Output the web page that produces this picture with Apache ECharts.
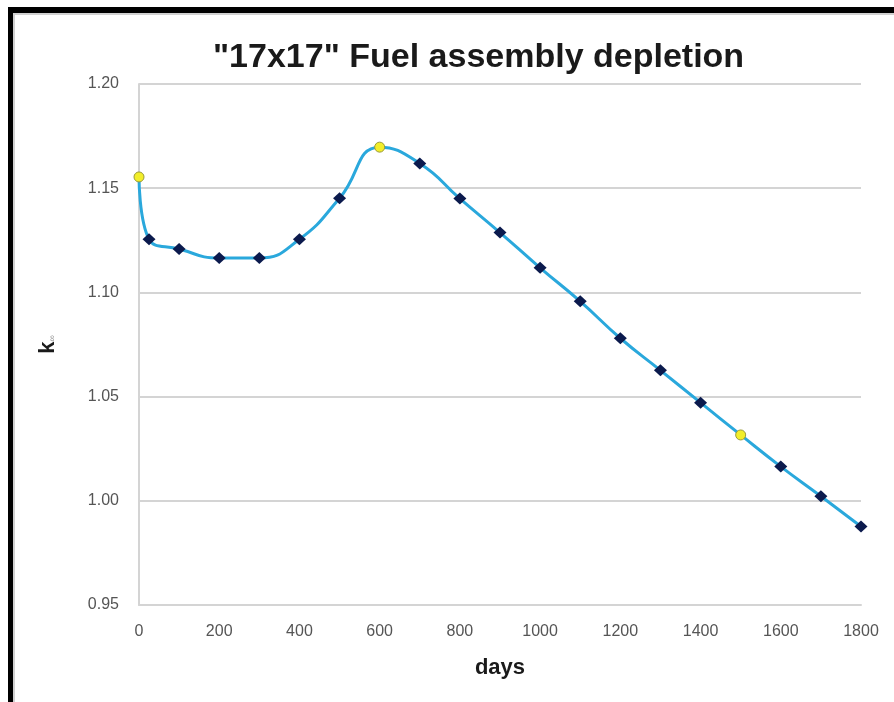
<!DOCTYPE html>
<html>
<head>
<meta charset="utf-8">
<script src="https://cdn.jsdelivr.net/npm/echarts@6/dist/echarts.min.js"></script>
<style>
html,body{margin:0;padding:0;background:#fff;}
#chart{width:894px;height:702px;}
</style>
</head>
<body>
<div id="chart"></div>
<script>
var titleText = '"17x17" Fuel assembly depletion';
var xAxisTitle = 'days';
var days = [0, 25, 100, 200, 300, 400, 500, 600, 700, 800, 900, 1000, 1100, 1200, 1300, 1400, 1500, 1600, 1700, 1800];
var kinf = [1.1554, 1.1255, 1.1208, 1.1165, 1.1165, 1.1255, 1.1452, 1.1697, 1.1619, 1.1450, 1.1287, 1.1118, 1.0957, 1.0780, 1.0626, 1.0471, 1.0316, 1.0164, 1.0022, 0.9877];
var highlightedDays = [0, 600, 1500];
var xTicks = [0, 200, 400, 600, 800, 1000, 1200, 1400, 1600, 1800];
var yTicks = [0.95, 1.00, 1.05, 1.10, 1.15, 1.20];

var seriesData = days.map(function (d, i) {
  var item = { value: [d, kinf[i]] };
  if (highlightedDays.indexOf(d) >= 0) {
    item.symbol = 'circle';
    item.symbolSize = 10;
    item.itemStyle = { color: '#f2ee2a', borderColor: '#9a9a3a', borderWidth: 1 };
  }
  return item;
});

var chart = echarts.init(document.getElementById('chart'), null, { renderer: 'canvas' });
chart.setOption({
  backgroundColor: '#ffffff',
  animation: false,
  title: {
    text: titleText,
    left: 208,
    top: 36,
    textStyle: { fontFamily: 'Liberation Sans, Arial, sans-serif', fontWeight: 'bold', fontSize: 34, color: '#1a1a1a' }
  },
  graphic: [
    { type: 'rect', shape: { x: 8, y: 7, width: 886, height: 6 }, style: { fill: '#000' }, silent: true },
    { type: 'rect', shape: { x: 8, y: 7, width: 5, height: 695 }, style: { fill: '#000' }, silent: true },
    { type: 'rect', shape: { x: 13, y: 13, width: 881, height: 2 }, style: { fill: '#d0d0d0' }, silent: true },
    { type: 'rect', shape: { x: 13, y: 13, width: 2, height: 689 }, style: { fill: '#d0d0d0' }, silent: true }
  ],
  grid: { left: 139, right: 33, top: 84, bottom: 97, containLabel: false },
  xAxis: {
    type: 'value',
    min: xTicks[0],
    max: xTicks[xTicks.length - 1],
    interval: 200,
    name: xAxisTitle,
    nameLocation: 'middle',
    nameGap: 52,
    nameTextStyle: { fontFamily: 'Liberation Sans, Arial, sans-serif', fontWeight: 'bold', fontSize: 22, color: '#1a1a1a' },
    axisLine: { show: true, lineStyle: { color: '#d4d4d4', width: 2 } },
    axisTick: { show: false },
    splitLine: { show: false },
    axisLabel: {
      margin: 19,
      fontFamily: 'Liberation Sans, Arial, sans-serif',
      fontSize: 16,
      color: '#555',
      formatter: function (v) { return String(v); }
    }
  },
  yAxis: {
    type: 'value',
    min: yTicks[0],
    max: yTicks[yTicks.length - 1],
    interval: 0.05,
    name: '{k|k}{s|∞}',
    nameLocation: 'middle',
    nameRotate: 90,
    nameGap: 80,
    nameTextStyle: {
      rich: {
        k: { fontFamily: 'Liberation Sans, Arial, sans-serif', fontWeight: 'bold', fontSize: 22, color: '#1a1a1a' },
        s: { fontFamily: 'Liberation Sans, Arial, sans-serif', fontSize: 9, color: '#888', padding: [10, 0, 0, 0] }
      }
    },
    axisLine: { show: true, lineStyle: { color: '#d4d4d4', width: 2 } },
    axisTick: { show: false },
    splitLine: { show: true, lineStyle: { color: '#d4d4d4', width: 2 } },
    axisLabel: {
      margin: 20,
      fontFamily: 'Liberation Sans, Arial, sans-serif',
      fontSize: 16,
      color: '#555',
      formatter: function (v) { return v.toFixed(2); }
    }
  },
  series: [{
    type: 'line',
    data: seriesData,
    smooth: 0.5,
    symbol: 'diamond',
    symbolSize: [13, 12],
    lineStyle: { color: '#2aa8dc', width: 3 },
    itemStyle: { color: '#0b1a4d' },
    z: 3
  }]
});
</script>
</body>
</html>
